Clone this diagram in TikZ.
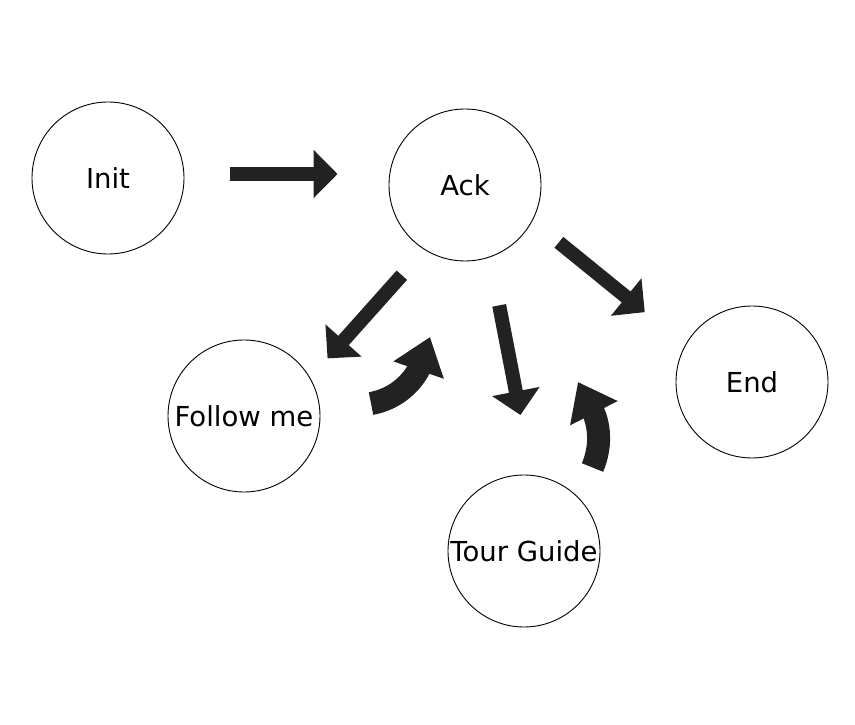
\documentclass[tikz,border=0pt]{standalone}
\usepackage{fontspec}
\setmainfont{DejaVu Sans}
\usetikzlibrary{arrows.meta,positioning,calc}
\usepackage{xcolor}
\definecolor{arrowdark}{RGB}{34,34,34}

\begin{document}
\begin{tikzpicture}[x=1pt, y=1pt,
    every node/.style={
        circle,
        draw=black,
        line width=0.9pt,
        minimum size=152pt,
        inner sep=0pt,
        font=\fontsize{27.5}{31}\selectfont
    },
    blockarrow/.style={
        draw=arrowdark,
        line width=14pt,
        -{Triangle[length=24pt, width=47pt]}
    },
    bentarrow/.style={
        draw=arrowdark,
        line width=23pt,
        -{Triangle[length=35pt, width=51pt]}
    }]
    \useasboundingbox (0,0) rectangle (855,724);

    \node (init) at (108, 546)
    {
        Init
    };
    \node (ack) at (465, 539)
    {
        Ack
    };
    \node (follow_me) at (244, 308)
    {
        Follow me
    };
    \node (tour_guide) at (524, 173)
    {
        Tour Guide
    };
    \node (end_state) at (752, 342)
    {
        End
    };

    \path (follow_me) ++(127, 12.5) coordinate (follow_me_out);
    \path (ack) ++(-35, -152) coordinate (follow_me_in);
    \path (tour_guide) ++(68.5, 83.5) coordinate (tour_guide_out);
    \path (ack) ++(113, -197) coordinate (tour_guide_in);

    \draw[blockarrow, shorten <=46pt, shorten >=51pt] (init.3) to (init.3 -| ack.west);

    \draw[blockarrow, shorten <=34pt, shorten >=26pt] (ack.238) to (follow_me.30);
    \draw[blockarrow, shorten <=49pt, shorten >=61pt] (ack.289) to (tour_guide.84);
    \draw[blockarrow, shorten <=34pt, shorten >=52pt] (ack.332) to (end_state.151);

    \draw[bentarrow] (follow_me_out) to[out=10, in=-109] (follow_me_in);
    \draw[bentarrow] (tour_guide_out) to[out=67, in=-63] (tour_guide_in);
\end{tikzpicture}
\end{document}
